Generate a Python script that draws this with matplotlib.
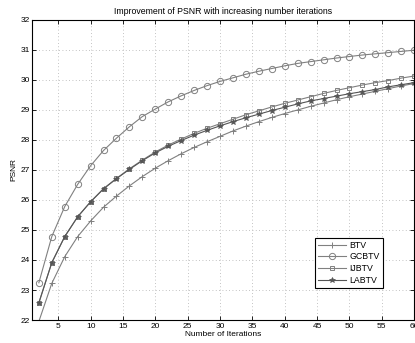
import numpy as np
import matplotlib.pyplot as plt

plt.rcParams['font.family'] = ['Liberation Sans', 'DejaVu Sans']

# iterations (every 2nd iteration is plotted)
iters = list(range(2, 61, 2))

btv = [21.95, 23.22, 24.11, 24.78, 25.30, 25.76, 26.13, 26.47, 26.78, 27.06,
       27.31, 27.54, 27.75, 27.94, 28.12, 28.30, 28.46, 28.61, 28.75, 28.88,
       29.00, 29.12, 29.23, 29.34, 29.44, 29.53, 29.62, 29.71, 29.80, 29.88]
gcbtv = [23.24, 24.78, 25.78, 26.52, 27.14, 27.65, 28.06, 28.44, 28.78, 29.03,
         29.27, 29.47, 29.65, 29.81, 29.95, 30.07, 30.19, 30.29, 30.38, 30.47,
         30.55, 30.61, 30.67, 30.73, 30.78, 30.83, 30.87, 30.91, 30.95, 30.99]
ijbtv = [22.57, 23.91, 24.78, 25.44, 25.94, 26.38, 26.72, 27.04, 27.33, 27.60,
         27.83, 28.03, 28.22, 28.39, 28.54, 28.69, 28.84, 28.97, 29.10, 29.22,
         29.33, 29.44, 29.55, 29.65, 29.74, 29.83, 29.91, 29.98, 30.06, 30.13]
labtv = [22.57, 23.91, 24.78, 25.44, 25.94, 26.37, 26.71, 27.02, 27.31, 27.57,
         27.79, 27.98, 28.16, 28.32, 28.47, 28.61, 28.74, 28.86, 28.98, 29.09,
         29.20, 29.30, 29.38, 29.46, 29.54, 29.61, 29.68, 29.77, 29.84, 29.91]

fig = plt.figure(figsize=(4.15, 3.43), dpi=100)
ax = fig.add_axes([0.078, 0.067, 0.92, 0.875])

grey = '#808080'
ax.plot(iters, btv, color=grey, lw=0.8, marker='+', ms=4, mew=0.7, label='BTV')
ax.plot(iters, gcbtv, color=grey, lw=0.8, marker='o', ms=4.5, mfc='none', mew=0.7, label='GCBTV')
ax.plot(iters, ijbtv, color=grey, lw=0.8, marker='s', ms=3.5, mfc='none', mew=0.7, label='IJBTV')
ax.plot(iters, labtv, color='#555555', lw=0.8, marker='*', ms=4, mew=0.5, label='LABTV')

ax.set_xlim(1, 60)
ax.set_ylim(22, 32)
ax.set_xticks(range(5, 61, 5))
ax.set_yticks(range(22, 33))
ax.grid(True, linestyle=(0, (1, 3)), color='#b0b0b0', lw=0.6)
ax.tick_params(direction='in', top=True, right=True, labelsize=6, length=3, width=0.6, pad=2)
for s in ax.spines.values():
    s.set_linewidth(0.8)

ax.set_xlabel('Number of Iterations', fontsize=6, labelpad=1)
ax.set_ylabel('PSNR', fontsize=6, labelpad=2)
ax.set_title('Improvement of PSNR with increasing number iterations', fontsize=6.3, pad=4)

leg = ax.legend(loc='lower right', bbox_to_anchor=(0.93, 0.093), fontsize=6.3,
                fancybox=False, framealpha=1, edgecolor='black',
                handlelength=3.2, borderpad=0.35, labelspacing=0.3, handletextpad=0.4)
leg.get_frame().set_linewidth(0.8)

fig.savefig('out.png', dpi=100)
